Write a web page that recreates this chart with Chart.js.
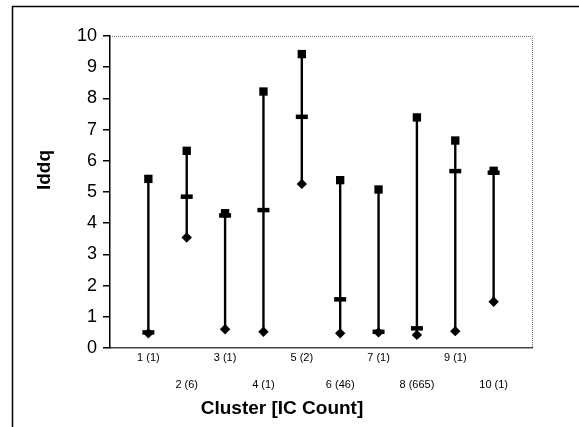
<!DOCTYPE html>
<html>
<head>
<meta charset="utf-8">
<script src="https://cdn.jsdelivr.net/npm/chart.js@4/dist/chart.umd.min.js"></script>
<style>
html,body{margin:0;padding:0;background:#fff;}
#wrap{width:579px;height:427px;position:relative;}
</style>
</head>
<body>
<div id="wrap"><canvas id="c" width="579" height="427"></canvas></div>
<script>
const categories = ['1 (1)','2 (6)','3 (1)','4 (1)','5 (2)','6 (46)','7 (1)','8 (665)','9 (1)','10 (1)'];
const highValues = [5.42, 6.32, 4.32, 8.22, 9.42, 5.38, 5.08, 7.39, 6.65, 5.68];
const lowValues = [0.47, 3.54, 0.60, 0.52, 5.26, 0.47, 0.50, 0.42, 0.54, 1.48];
const closeValues = [0.50, 4.85, 4.25, 4.42, 7.41, 1.56, 0.52, 0.63, 5.67, 5.62];
const yTicks = [0,1,2,3,4,5,6,7,8,9,10];

const rangePts = [];
categories.forEach((c,i)=>{
  rangePts.push({x:i+1,y:lowValues[i]});
  rangePts.push({x:i+1,y:highValues[i]});
  rangePts.push({x:i+1,y:null});
});
const toPts = arr => arr.map((v,i)=>({x:i+1,y:v}));

const framePlugin = {
  id:'frame',
  beforeDraw(chart){
    const ctx = chart.ctx, a = chart.chartArea;
    ctx.save();
    ctx.fillStyle='#fff';
    ctx.fillRect(0,0,chart.width,chart.height);
    ctx.strokeStyle='#000';
    ctx.lineWidth=1.5;
    ctx.beginPath();
    ctx.moveTo(12.5,427); ctx.lineTo(12.5,6.5); ctx.lineTo(579,6.5);
    ctx.stroke();
    ctx.strokeStyle='#777';
    ctx.lineWidth=1;
    ctx.setLineDash([1,1]);
    ctx.beginPath();
    ctx.moveTo(a.left, a.top+0.5); ctx.lineTo(a.right+0.5, a.top+0.5); ctx.lineTo(a.right+0.5, a.bottom);
    ctx.stroke();
    ctx.restore();
  },
  afterDraw(chart){
    const ctx = chart.ctx;
    ctx.save();
    ctx.fillStyle='#000';
    ctx.font='bold 19px "Liberation Sans", Arial, sans-serif';
    ctx.textAlign='center';
    ctx.textBaseline='middle';
    ctx.fillText('Cluster [IC Count]', 282, 409);
    ctx.translate(45,170);
    ctx.rotate(-Math.PI/2);
    ctx.fillText('Iddq', 0, 0);
    ctx.restore();
  }
};

new Chart(document.getElementById('c'), {
  type:'scatter',
  data:{
    datasets:[
      {label:'range', type:'line', data:rangePts, borderColor:'#000', borderWidth:2.4, pointRadius:0, spanGaps:false, order:4},
      {label:'High', data:toPts(highValues), pointStyle:'rect', pointRadius:5.9, backgroundColor:'#000', borderColor:'#000', borderWidth:0, order:1},
      {label:'Low', data:toPts(lowValues), pointStyle:'rectRot', pointRadius:5.2, backgroundColor:'#000', borderColor:'#000', borderWidth:0, order:2},
      {label:'Close', data:toPts(closeValues), pointStyle:'line', pointRadius:6, borderWidth:4.5, borderColor:'#000', backgroundColor:'#000', order:3}
    ]
  },
  options:{
    responsive:false,
    animation:false,
    layout:{padding:{left:0,right:47,top:36,bottom:0}},
    plugins:{legend:{display:false}, tooltip:{enabled:false}},
    scales:{
      x:{
        type:'linear', min:0, max:11,
        afterBuildTicks(scale){ scale.ticks = categories.map((c,i)=>({value:i+1})); },
        afterFit(scale){ scale.height = 79; },
        grid:{display:false, drawTicks:false},
        border:{display:true, color:'#444', width:1.5},
        ticks:{
          autoSkip:false, maxRotation:0, padding:-3,
          color:'#000',
          font:{family:'"Liberation Sans", Arial, sans-serif', size:11, lineHeight:2.4},
          callback(v){ const i=Math.round(v)-1; if(i<0||i>=categories.length) return ''; return (i%2===0)? categories[i] : ['', categories[i]]; }
        }
      },
      y:{
        min:0, max:10,
        afterBuildTicks(scale){ scale.ticks = yTicks.map(v=>({value:v})); },
        afterFit(scale){ scale.width = 110; },
        grid:{display:true, drawOnChartArea:false, drawTicks:true, tickLength:7, color:'#000', lineWidth:1.5},
        border:{display:true, color:'#000', width:1.5},
        ticks:{padding:6, color:'#000', font:{family:'"Liberation Sans", Arial, sans-serif', size:18}}
      }
    }
  },
  plugins:[framePlugin]
});
</script>
</body>
</html>
